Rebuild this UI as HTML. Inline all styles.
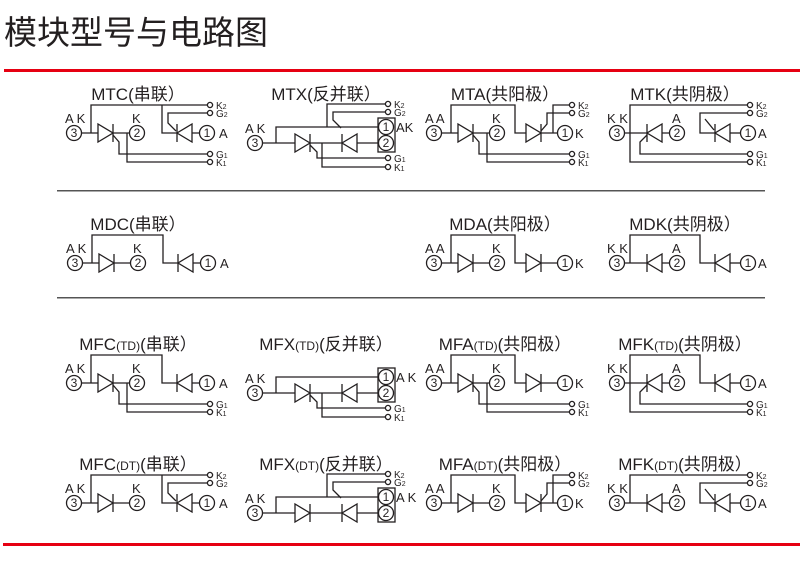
<!DOCTYPE html>
<html><head><meta charset="utf-8"><style>
html,body{margin:0;padding:0;background:#fff;}
svg{display:block;}
text{font-family:"Liberation Sans","Noto Sans CJK SC",sans-serif;fill:#231f20;}
</style></head><body>
<svg width="800" height="562" viewBox="0 0 800 562" xmlns="http://www.w3.org/2000/svg">
<defs>
<g id="tR"><polygon points="0,-9 0,9 15,0" fill="#fff" stroke="#231f20" stroke-width="1.3"/><line x1="15" y1="-9" x2="15" y2="9" stroke="#231f20" stroke-width="1.3"/></g>
<g id="tL"><polygon points="15,-9 15,9 0,0" fill="#fff" stroke="#231f20" stroke-width="1.3"/><line x1="0" y1="-9" x2="0" y2="9" stroke="#231f20" stroke-width="1.3"/></g>
<circle id="tm" r="2.6" fill="#fff" stroke="#231f20" stroke-width="1.3"/>
<circle id="nc" r="7.5" fill="#fff" stroke="#231f20" stroke-width="1.3"/>
</defs>

<text x="4" y="44" font-size="33">模块型号与电路图</text>
<rect x="4" y="69" width="796" height="3" fill="#e60012"/>
<rect x="3" y="543" width="797" height="3" fill="#e60012"/>
<rect x="57" y="190" width="708" height="1.5" fill="#555"/>
<rect x="57" y="297" width="708" height="1.5" fill="#555"/>

<g font-size="17" text-anchor="middle">
<text x="138" y="100">MTC(串联）</text>
<text x="326" y="100">MTX(反并联）</text>
<text x="505" y="100">MTA(共阳极）</text>
<text x="685" y="100">MTK(共阴极）</text>
<text x="138" y="230">MDC(串联）</text>
<text x="505" y="230">MDA(共阳极）</text>
<text x="685" y="230">MDK(共阴极）</text>
<text x="138" y="350">MFC<tspan font-size="12">(TD)</tspan>(串联）</text>
<text x="326" y="350">MFX<tspan font-size="12">(TD)</tspan>(反并联）</text>
<text x="505" y="350">MFA<tspan font-size="12">(TD)</tspan>(共阳极）</text>
<text x="685" y="350">MFK<tspan font-size="12">(TD)</tspan>(共阴极）</text>
<text x="138" y="470">MFC<tspan font-size="12">(DT)</tspan>(串联）</text>
<text x="326" y="470">MFX<tspan font-size="12">(DT)</tspan>(反并联）</text>
<text x="505" y="470">MFA<tspan font-size="12">(DT)</tspan>(共阳极）</text>
<text x="685" y="470">MFK<tspan font-size="12">(DT)</tspan>(共阴极）</text>
</g>

<g fill="none" stroke="#231f20" stroke-width="1.3" font-size="13">

<!-- ===== Type C (series) ===== -->
<!-- MTC -->
<g transform="translate(74,133)">
<polyline points="7,0 56,0"/><polyline points="17,0 17,-28 136,-28"/><polyline points="88,-28 88,0 126,0"/>
<use href="#tR" x="24"/><use href="#tL" x="103"/>
<polyline points="39,2 45,9 45,21 136,21"/><polyline points="53,0 53,29 136,29"/>
<polyline points="136,-20 94,-20 94,-10 102,-2"/>
<use href="#tm" x="136" y="-28"/><use href="#tm" x="136" y="-20"/><use href="#tm" x="136" y="21"/><use href="#tm" x="136" y="29"/>
</g>
<!-- MDC -->
<g transform="translate(75,263)">
<polyline points="7,0 56,0"/><polyline points="17,0 17,-28 88,-28 88,0 126,0"/>
<use href="#tR" x="24"/><use href="#tL" x="103"/>
</g>
<!-- MFC TD -->
<g transform="translate(74,383)">
<polyline points="7,0 56,0"/><polyline points="17,0 17,-28 88,-28 88,0 126,0"/>
<use href="#tR" x="24"/><use href="#tL" x="103"/>
<polyline points="39,2 45,9 45,21 136,21"/><polyline points="53,0 53,29 136,29"/>
<use href="#tm" x="136" y="21"/><use href="#tm" x="136" y="29"/>
</g>
<!-- MFC DT -->
<g transform="translate(74,503)">
<polyline points="7,0 56,0"/><polyline points="17,0 17,-28 136,-28"/><polyline points="88,-28 88,0 126,0"/>
<use href="#tR" x="24"/><use href="#tL" x="103"/>
<polyline points="136,-20 94,-20 94,-10 102,-2"/>
<use href="#tm" x="136" y="-28"/><use href="#tm" x="136" y="-20"/>
</g>

<!-- ===== Type A (common anode) ===== -->
<g transform="translate(434,133)">
<polyline points="7,0 56,0"/><polyline points="17,0 17,-28 81,-28 81,0 92,0"/><polyline points="107,0 124,0"/>
<use href="#tR" x="24"/><use href="#tR" x="92"/>
<polyline points="39,2 45,9 45,21 138,21"/><polyline points="53,0 53,29 138,29"/>
<polyline points="119,0 119,-28 138,-28"/><polyline points="107,-2 113,-9 113,-20 138,-20"/>
<use href="#tm" x="138" y="-28"/><use href="#tm" x="138" y="-20"/><use href="#tm" x="138" y="21"/><use href="#tm" x="138" y="29"/>
</g>
<g transform="translate(434,263)">
<polyline points="7,0 56,0"/><polyline points="17,0 17,-28 81,-28 81,0 92,0"/><polyline points="107,0 124,0"/>
<use href="#tR" x="24"/><use href="#tR" x="92"/>
</g>
<g transform="translate(434,383)">
<polyline points="7,0 56,0"/><polyline points="17,0 17,-28 81,-28 81,0 92,0"/><polyline points="107,0 124,0"/>
<use href="#tR" x="24"/><use href="#tR" x="92"/>
<polyline points="39,2 45,9 45,21 138,21"/><polyline points="53,0 53,29 138,29"/>
<use href="#tm" x="138" y="21"/><use href="#tm" x="138" y="29"/>
</g>
<g transform="translate(434,503)">
<polyline points="7,0 56,0"/><polyline points="17,0 17,-28 81,-28 81,0 92,0"/><polyline points="107,0 124,0"/>
<use href="#tR" x="24"/><use href="#tR" x="92"/>
<polyline points="119,0 119,-28 138,-28"/><polyline points="107,-2 113,-9 113,-20 138,-20"/>
<use href="#tm" x="138" y="-28"/><use href="#tm" x="138" y="-20"/>
</g>

<!-- ===== Type K (common cathode) ===== -->
<g transform="translate(617,133)">
<polyline points="7,0 53,0"/><polyline points="13,0 13,-28 133,-28"/><polyline points="133,-20 83,-20 83,0 98,0"/><polyline points="113,0 124,0"/>
<use href="#tL" x="30"/><use href="#tL" x="98"/>
<polyline points="88,-14 97,-3"/>
<polyline points="13,0 13,29 133,29"/><polyline points="30,2 23,9 23,21 133,21"/>
<use href="#tm" x="133" y="-28"/><use href="#tm" x="133" y="-20"/><use href="#tm" x="133" y="21"/><use href="#tm" x="133" y="29"/>
</g>
<g transform="translate(617,263)">
<polyline points="7,0 53,0"/><polyline points="13,0 13,-28 83,-28 83,0 98,0"/><polyline points="113,0 124,0"/>
<use href="#tL" x="30"/><use href="#tL" x="98"/>
</g>
<g transform="translate(617,383)">
<polyline points="7,0 53,0"/><polyline points="13,0 13,-28 83,-28 83,0 98,0"/><polyline points="113,0 124,0"/>
<use href="#tL" x="30"/><use href="#tL" x="98"/>
<polyline points="13,0 13,29 133,29"/><polyline points="30,2 23,9 23,21 133,21"/>
<use href="#tm" x="133" y="21"/><use href="#tm" x="133" y="29"/>
</g>
<g transform="translate(617,503)">
<polyline points="7,0 53,0"/><polyline points="13,0 13,-28 133,-28"/><polyline points="133,-20 83,-20 83,0 98,0"/><polyline points="113,0 124,0"/>
<use href="#tL" x="30"/><use href="#tL" x="98"/>
<polyline points="88,-14 97,-3"/>
<use href="#tm" x="133" y="-28"/><use href="#tm" x="133" y="-20"/>
</g>

<!-- ===== Type X (anti-parallel) ===== -->
<g transform="translate(255,143)">
<polyline points="7,0 123,0"/><polyline points="21,0 21,-16 123,-16"/>
<use href="#tR" x="40"/><use href="#tL" x="87"/>
<rect x="123" y="-25" width="17" height="34"/>
<polyline points="72,-16 72,-39 133,-39"/><polyline points="133,-31 78,-31 78,-23 86,-15"/>
<polyline points="55,2 62,9 62,15 133,15"/><polyline points="67,0 67,24 133,24"/>
<use href="#tm" x="133" y="-39"/><use href="#tm" x="133" y="-31"/><use href="#tm" x="133" y="15"/><use href="#tm" x="133" y="24"/>
</g>
<g transform="translate(255,393)">
<polyline points="7,0 123,0"/><polyline points="21,0 21,-16 123,-16"/>
<use href="#tR" x="40"/><use href="#tL" x="87"/>
<rect x="123" y="-25" width="17" height="34"/>
<polyline points="55,2 62,9 62,15 133,15"/><polyline points="67,0 67,24 133,24"/>
<use href="#tm" x="133" y="15"/><use href="#tm" x="133" y="24"/>
</g>
<g transform="translate(255,513)">
<polyline points="7,0 123,0"/><polyline points="21,0 21,-16 123,-16"/>
<use href="#tR" x="40"/><use href="#tL" x="87"/>
<rect x="123" y="-25" width="17" height="34"/>
<polyline points="72,-16 72,-39 133,-39"/><polyline points="133,-31 78,-31 78,-23 86,-15"/>
<use href="#tm" x="133" y="-39"/><use href="#tm" x="133" y="-31"/>
</g>
</g>

<!-- numbered circles -->
<g>
<use href="#nc" x="74" y="133"/><use href="#nc" x="137" y="133"/><use href="#nc" x="207" y="133"/>
<use href="#nc" x="75" y="263"/><use href="#nc" x="138" y="263"/><use href="#nc" x="208" y="263"/>
<use href="#nc" x="74" y="383"/><use href="#nc" x="137" y="383"/><use href="#nc" x="207" y="383"/>
<use href="#nc" x="74" y="503"/><use href="#nc" x="137" y="503"/><use href="#nc" x="207" y="503"/>
<use href="#nc" x="434" y="133"/><use href="#nc" x="497" y="133"/><use href="#nc" x="565" y="133"/>
<use href="#nc" x="434" y="263"/><use href="#nc" x="497" y="263"/><use href="#nc" x="565" y="263"/>
<use href="#nc" x="434" y="383"/><use href="#nc" x="497" y="383"/><use href="#nc" x="565" y="383"/>
<use href="#nc" x="434" y="503"/><use href="#nc" x="497" y="503"/><use href="#nc" x="565" y="503"/>
<use href="#nc" x="617" y="133"/><use href="#nc" x="677" y="133"/><use href="#nc" x="748" y="133"/>
<use href="#nc" x="617" y="263"/><use href="#nc" x="677" y="263"/><use href="#nc" x="748" y="263"/>
<use href="#nc" x="617" y="383"/><use href="#nc" x="677" y="383"/><use href="#nc" x="748" y="383"/>
<use href="#nc" x="617" y="503"/><use href="#nc" x="677" y="503"/><use href="#nc" x="748" y="503"/>
<use href="#nc" x="255" y="143"/><use href="#nc" x="386" y="127"/><use href="#nc" x="386" y="143"/>
<use href="#nc" x="255" y="393"/><use href="#nc" x="386" y="377"/><use href="#nc" x="386" y="393"/>
<use href="#nc" x="255" y="513"/><use href="#nc" x="386" y="497"/><use href="#nc" x="386" y="513"/>
</g>
<g font-size="12" text-anchor="middle">
<text x="74" y="137">3</text><text x="137" y="137">2</text><text x="207" y="137">1</text>
<text x="75" y="267">3</text><text x="138" y="267">2</text><text x="208" y="267">1</text>
<text x="74" y="387">3</text><text x="137" y="387">2</text><text x="207" y="387">1</text>
<text x="74" y="507">3</text><text x="137" y="507">2</text><text x="207" y="507">1</text>
<text x="434" y="137">3</text><text x="497" y="137">2</text><text x="565" y="137">1</text>
<text x="434" y="267">3</text><text x="497" y="267">2</text><text x="565" y="267">1</text>
<text x="434" y="387">3</text><text x="497" y="387">2</text><text x="565" y="387">1</text>
<text x="434" y="507">3</text><text x="497" y="507">2</text><text x="565" y="507">1</text>
<text x="617" y="137">3</text><text x="677" y="137">2</text><text x="748" y="137">1</text>
<text x="617" y="267">3</text><text x="677" y="267">2</text><text x="748" y="267">1</text>
<text x="617" y="387">3</text><text x="677" y="387">2</text><text x="748" y="387">1</text>
<text x="617" y="507">3</text><text x="677" y="507">2</text><text x="748" y="507">1</text>
<text x="255" y="147">3</text><text x="386" y="131">1</text><text x="386" y="147">2</text>
<text x="255" y="397">3</text><text x="386" y="381">1</text><text x="386" y="397">2</text>
<text x="255" y="517">3</text><text x="386" y="501">1</text><text x="386" y="517">2</text>
</g>

<!-- port labels -->
<g font-size="13">
<text x="65" y="123">A K</text><text x="132" y="123">K</text><text x="219" y="138">A</text>
<text x="66" y="253">A K</text><text x="133" y="253">K</text><text x="220" y="268">A</text>
<text x="65" y="373">A K</text><text x="132" y="373">K</text><text x="219" y="388">A</text>
<text x="65" y="493">A K</text><text x="132" y="493">K</text><text x="219" y="508">A</text>
<text x="425" y="123">A A</text><text x="492" y="123">K</text><text x="575" y="138">K</text>
<text x="425" y="253">A A</text><text x="492" y="253">K</text><text x="575" y="268">K</text>
<text x="425" y="373">A A</text><text x="492" y="373">K</text><text x="575" y="388">K</text>
<text x="425" y="493">A A</text><text x="492" y="493">K</text><text x="575" y="508">K</text>
<text x="607" y="123">K K</text><text x="672" y="123">A</text><text x="758" y="138">A</text>
<text x="607" y="253">K K</text><text x="672" y="253">A</text><text x="758" y="268">A</text>
<text x="607" y="373">K K</text><text x="672" y="373">A</text><text x="758" y="388">A</text>
<text x="607" y="493">K K</text><text x="672" y="493">A</text><text x="758" y="508">A</text>
<text x="245" y="133">A K</text><text x="396" y="132">AK</text>
<text x="245" y="383">A K</text><text x="396" y="382">A K</text>
<text x="245" y="503">A K</text><text x="396" y="502">A K</text>
</g>
<g font-size="10">
<!-- row1 -->
<text x="216" y="109">K<tspan font-size="7">2</tspan></text><text x="216" y="117">G<tspan font-size="7">2</tspan></text>
<text x="216" y="158">G<tspan font-size="7">1</tspan></text><text x="216" y="166">K<tspan font-size="7">1</tspan></text>
<text x="578" y="109">K<tspan font-size="7">2</tspan></text><text x="578" y="117">G<tspan font-size="7">2</tspan></text>
<text x="578" y="158">G<tspan font-size="7">1</tspan></text><text x="578" y="166">K<tspan font-size="7">1</tspan></text>
<text x="756" y="109">K<tspan font-size="7">2</tspan></text><text x="756" y="117">G<tspan font-size="7">2</tspan></text>
<text x="756" y="158">G<tspan font-size="7">1</tspan></text><text x="756" y="166">K<tspan font-size="7">1</tspan></text>
<text x="394" y="108">K<tspan font-size="7">2</tspan></text><text x="394" y="116">G<tspan font-size="7">2</tspan></text>
<text x="394" y="162">G<tspan font-size="7">1</tspan></text><text x="394" y="171">K<tspan font-size="7">1</tspan></text>
<!-- row3 -->
<text x="216" y="408">G<tspan font-size="7">1</tspan></text><text x="216" y="416">K<tspan font-size="7">1</tspan></text>
<text x="578" y="408">G<tspan font-size="7">1</tspan></text><text x="578" y="416">K<tspan font-size="7">1</tspan></text>
<text x="756" y="408">G<tspan font-size="7">1</tspan></text><text x="756" y="416">K<tspan font-size="7">1</tspan></text>
<text x="394" y="412">G<tspan font-size="7">1</tspan></text><text x="394" y="421">K<tspan font-size="7">1</tspan></text>
<!-- row4 -->
<text x="216" y="479">K<tspan font-size="7">2</tspan></text><text x="216" y="487">G<tspan font-size="7">2</tspan></text>
<text x="578" y="479">K<tspan font-size="7">2</tspan></text><text x="578" y="487">G<tspan font-size="7">2</tspan></text>
<text x="756" y="479">K<tspan font-size="7">2</tspan></text><text x="756" y="487">G<tspan font-size="7">2</tspan></text>
<text x="394" y="478">K<tspan font-size="7">2</tspan></text><text x="394" y="486">G<tspan font-size="7">2</tspan></text>
</g>
</svg>
</body></html>
